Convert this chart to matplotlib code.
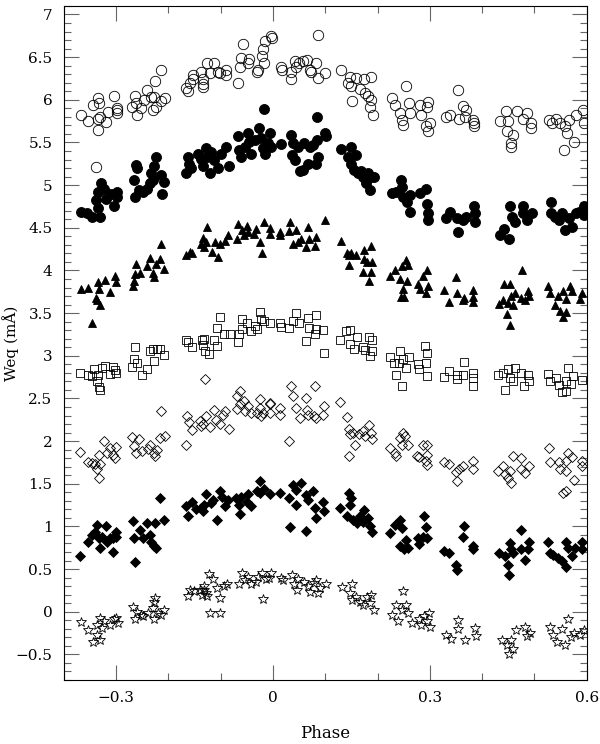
import numpy as np
import matplotlib
matplotlib.use("Agg")
import matplotlib.pyplot as plt
from matplotlib.ticker import MultipleLocator

# ---- data: (phase, Weq)
open_circles = [
    (-0.367, 5.82), (-0.353, 5.75), (-0.343, 5.94), (-0.334, 6.02), (-0.332, 5.96), (-0.335, 5.78),
    (-0.330, 5.80), (-0.334, 5.65), (-0.319, 5.74), (-0.315, 5.86), (-0.304, 6.04), (-0.298, 5.90),
    (-0.298, 5.84), (-0.297, 5.88), (-0.339, 5.21), (-0.270, 5.91), (-0.263, 6.04), (-0.262, 5.96),
    (-0.259, 5.82), (-0.252, 5.90), (-0.247, 6.00), (-0.240, 6.11), (-0.233, 6.03), (-0.230, 5.88),
    (-0.227, 6.03), (-0.226, 6.22), (-0.224, 5.92), (-0.214, 6.35), (-0.214, 5.99), (-0.206, 6.02),
    (-0.166, 6.14), (-0.162, 6.10), (-0.159, 6.20), (-0.153, 6.29), (-0.153, 6.24), (-0.137, 6.33),
    (-0.134, 6.24), (-0.134, 6.18), (-0.133, 6.15), (-0.125, 6.43), (-0.121, 6.31), (-0.112, 6.43),
    (-0.105, 6.33), (-0.102, 6.32), (-0.089, 6.35), (-0.089, 6.29), (-0.066, 6.20), (-0.063, 6.39),
    (-0.061, 6.49), (-0.058, 6.65), (-0.048, 6.43), (-0.045, 6.48), (-0.030, 6.33), (-0.029, 6.35),
    (-0.021, 6.51), (-0.019, 6.60), (-0.016, 6.69), (-0.017, 6.43), (-0.004, 6.75), (-0.002, 6.73),
    (0.016, 6.39), (0.017, 6.35), (0.035, 6.24), (0.034, 6.33), (0.042, 6.45), (0.045, 6.39),
    (0.049, 6.43), (0.057, 6.45), (0.066, 6.47), (0.070, 6.35), (0.073, 6.33), (0.083, 6.43),
    (0.086, 6.76), (0.087, 6.25), (0.099, 6.32), (0.131, 6.35), (0.144, 6.20), (0.147, 6.27),
    (0.150, 6.16), (0.151, 5.99), (0.159, 6.25), (0.166, 6.13), (0.175, 6.24), (0.176, 6.08),
    (0.181, 6.04), (0.188, 6.27), (0.188, 6.00), (0.186, 5.92), (0.192, 5.82), (0.227, 6.02),
    (0.233, 5.94), (0.243, 5.84), (0.246, 5.76), (0.249, 5.71), (0.254, 6.16), (0.260, 5.96),
    (0.262, 5.84), (0.281, 5.94), (0.283, 5.82), (0.294, 5.92), (0.296, 5.98), (0.292, 5.69),
    (0.297, 5.63), (0.300, 5.73), (0.330, 5.80), (0.339, 5.82), (0.353, 6.11), (0.355, 5.78),
    (0.364, 5.93), (0.367, 5.80), (0.369, 5.88), (0.383, 5.76), (0.385, 5.73), (0.385, 5.69),
    (0.435, 5.75), (0.445, 5.87), (0.450, 5.75), (0.447, 5.64), (0.458, 5.59), (0.456, 5.49),
    (0.456, 5.45), (0.466, 5.87), (0.479, 5.78), (0.486, 5.84), (0.494, 5.73), (0.494, 5.67),
    (0.527, 5.76), (0.533, 5.73), (0.541, 5.77), (0.549, 5.73), (0.559, 5.69), (0.562, 5.61),
    (0.556, 5.41), (0.566, 5.76), (0.575, 5.50), (0.579, 5.82), (0.593, 5.88), (0.595, 5.73),
]

filled_circles = [
    (-0.367, 4.69), (-0.356, 4.67), (-0.345, 4.63), (-0.339, 4.82), (-0.335, 4.73), (-0.330, 4.63),
    (-0.334, 4.92), (-0.329, 5.03), (-0.322, 4.95), (-0.319, 4.84), (-0.310, 4.90), (-0.303, 4.75),
    (-0.297, 4.92), (-0.297, 4.86), (-0.266, 5.06), (-0.262, 5.24), (-0.260, 5.20), (-0.264, 4.86),
    (-0.256, 4.94), (-0.249, 4.92), (-0.240, 4.95), (-0.234, 5.02), (-0.232, 5.14), (-0.230, 5.06),
    (-0.227, 5.22), (-0.224, 5.33), (-0.214, 5.12), (-0.211, 4.90), (-0.208, 5.04), (-0.166, 5.14),
    (-0.163, 5.33), (-0.160, 5.25), (-0.157, 5.20), (-0.144, 5.37), (-0.137, 5.31), (-0.134, 5.22),
    (-0.128, 5.43), (-0.121, 5.14), (-0.125, 5.33), (-0.118, 5.39), (-0.112, 5.29), (-0.105, 5.20),
    (-0.099, 5.37), (-0.089, 5.45), (-0.083, 5.22), (-0.067, 5.57), (-0.065, 5.41), (-0.061, 5.33),
    (-0.054, 5.45), (-0.048, 5.61), (-0.045, 5.51), (-0.042, 5.37), (-0.035, 5.53), (-0.026, 5.67),
    (-0.022, 5.55), (-0.019, 5.43), (-0.017, 5.89), (-0.016, 5.37), (-0.010, 5.49), (-0.006, 5.61),
    (-0.003, 5.45), (0.016, 5.48), (0.035, 5.59), (0.038, 5.49), (0.036, 5.35), (0.042, 5.29),
    (0.048, 5.45), (0.051, 5.17), (0.060, 5.49), (0.070, 5.45), (0.067, 5.25), (0.057, 5.18),
    (0.076, 5.47), (0.085, 5.53), (0.085, 5.80), (0.086, 5.33), (0.083, 5.25), (0.099, 5.61),
    (0.101, 5.57), (0.131, 5.42), (0.150, 5.45), (0.144, 5.33), (0.159, 5.35), (0.150, 5.25),
    (0.156, 5.18), (0.163, 5.14), (0.169, 5.16), (0.172, 5.10), (0.182, 5.14), (0.188, 5.10),
    (0.178, 5.02), (0.185, 4.94), (0.193, 5.10), (0.227, 4.91), (0.236, 4.92), (0.245, 5.06),
    (0.246, 4.98), (0.249, 4.86), (0.256, 4.80), (0.262, 4.88), (0.262, 4.69), (0.281, 4.91),
    (0.292, 4.96), (0.294, 4.78), (0.297, 4.67), (0.297, 4.59), (0.330, 4.61), (0.339, 4.69),
    (0.351, 4.61), (0.353, 4.45), (0.364, 4.59), (0.370, 4.63), (0.385, 4.75), (0.387, 4.67),
    (0.387, 4.57), (0.435, 4.41), (0.441, 4.49), (0.451, 4.37), (0.454, 4.76), (0.457, 4.63),
    (0.463, 4.57), (0.479, 4.76), (0.479, 4.67), (0.486, 4.59), (0.495, 4.67), (0.531, 4.80),
    (0.531, 4.67), (0.540, 4.63), (0.547, 4.59), (0.553, 4.67), (0.559, 4.47), (0.566, 4.61),
    (0.572, 4.51), (0.579, 4.67), (0.585, 4.69), (0.595, 4.76), (0.595, 4.65),
]

triangles = [
    (-0.367, 3.78), (-0.354, 3.80), (-0.345, 3.39), (-0.338, 3.68), (-0.335, 3.86), (-0.332, 3.78),
    (-0.337, 3.65), (-0.330, 3.59), (-0.321, 3.89), (-0.311, 3.75), (-0.302, 3.93), (-0.300, 3.87),
    (-0.268, 3.82), (-0.266, 3.88), (-0.262, 4.07), (-0.263, 3.96), (-0.254, 3.97), (-0.241, 4.05),
    (-0.235, 4.15), (-0.229, 3.97), (-0.227, 3.92), (-0.224, 4.07), (-0.215, 4.14), (-0.214, 4.31),
    (-0.208, 4.02), (-0.166, 4.18), (-0.158, 4.22), (-0.155, 4.20), (-0.138, 4.31), (-0.134, 4.38),
    (-0.132, 4.27), (-0.127, 4.33), (-0.125, 4.51), (-0.117, 4.22), (-0.111, 4.33), (-0.104, 4.16),
    (-0.101, 4.31), (-0.091, 4.35), (-0.085, 4.41), (-0.069, 4.37), (-0.066, 4.55), (-0.059, 4.47),
    (-0.056, 4.41), (-0.050, 4.52), (-0.047, 4.45), (-0.037, 4.43), (-0.032, 4.49), (-0.025, 4.33),
    (-0.020, 4.21), (-0.017, 4.57), (-0.006, 4.43), (-0.005, 4.50), (0.013, 4.41), (0.014, 4.45),
    (0.031, 4.46), (0.032, 4.57), (0.039, 4.31), (0.045, 4.47), (0.048, 4.33), (0.053, 4.37),
    (0.063, 4.27), (0.067, 4.51), (0.069, 4.37), (0.080, 4.29), (0.083, 4.39), (0.100, 4.59),
    (0.130, 4.34), (0.141, 4.20), (0.146, 4.18), (0.150, 4.20), (0.146, 4.06), (0.159, 4.18),
    (0.175, 4.24), (0.187, 4.29), (0.174, 4.14), (0.179, 4.10), (0.189, 4.10), (0.173, 3.98),
    (0.187, 3.98), (0.184, 3.88), (0.224, 3.93), (0.233, 4.01), (0.243, 3.90), (0.246, 4.05),
    (0.254, 4.12), (0.259, 4.06), (0.257, 3.88), (0.248, 3.78), (0.244, 3.69), (0.250, 3.69),
    (0.278, 3.84), (0.281, 3.78), (0.287, 3.93), (0.295, 4.00), (0.292, 3.74), (0.297, 3.82),
    (0.327, 3.77), (0.337, 3.63), (0.350, 3.92), (0.351, 3.74), (0.363, 3.65), (0.365, 3.68),
    (0.382, 3.77), (0.383, 3.69), (0.382, 3.63), (0.432, 3.61), (0.439, 3.65), (0.441, 3.84),
    (0.450, 3.62), (0.454, 3.84), (0.456, 3.70), (0.462, 3.73), (0.447, 3.49), (0.454, 3.36),
    (0.458, 3.59), (0.475, 3.68), (0.477, 4.00), (0.482, 3.65), (0.488, 3.76), (0.490, 3.70),
    (0.526, 3.82), (0.529, 3.74), (0.539, 3.59), (0.545, 3.70), (0.548, 3.53), (0.555, 3.76),
    (0.560, 3.67), (0.561, 3.51), (0.554, 3.45), (0.568, 3.82), (0.571, 3.76), (0.587, 3.67),
    (0.590, 3.74),
]

squares = [
    (-0.368, 2.80), (-0.354, 2.78), (-0.346, 2.76), (-0.341, 2.84), (-0.337, 2.71), (-0.335, 2.78),
    (-0.333, 2.63), (-0.331, 2.60), (-0.327, 2.86), (-0.321, 2.88), (-0.312, 2.79), (-0.306, 2.87),
    (-0.302, 2.83), (-0.300, 2.80), (-0.270, 2.87), (-0.265, 2.96), (-0.263, 3.10), (-0.259, 2.92),
    (-0.251, 2.78), (-0.240, 2.85), (-0.235, 3.06), (-0.229, 3.08), (-0.228, 2.94), (-0.222, 3.08),
    (-0.216, 3.08), (-0.209, 3.01), (-0.166, 3.18), (-0.162, 3.16), (-0.155, 3.10), (-0.136, 3.18),
    (-0.134, 3.13), (-0.132, 3.20), (-0.130, 3.06), (-0.122, 3.02), (-0.113, 3.18), (-0.107, 3.11),
    (-0.107, 3.33), (-0.102, 3.45), (-0.093, 3.25), (-0.082, 3.25), (-0.067, 3.16), (-0.064, 3.25),
    (-0.059, 3.43), (-0.059, 3.31), (-0.050, 3.38), (-0.041, 3.29), (-0.034, 3.35), (-0.031, 3.31),
    (-0.025, 3.51), (-0.022, 3.43), (-0.017, 3.41), (-0.006, 3.39), (0.013, 3.39), (0.015, 3.34),
    (0.031, 3.32), (0.039, 3.41), (0.045, 3.50), (0.050, 3.39), (0.063, 3.17), (0.067, 3.44),
    (0.069, 3.33), (0.080, 3.25), (0.083, 3.48), (0.083, 3.31), (0.096, 3.30), (0.097, 3.03),
    (0.128, 3.18), (0.140, 3.29), (0.147, 3.30), (0.147, 3.14), (0.156, 3.08), (0.161, 3.22),
    (0.173, 3.10), (0.176, 3.07), (0.184, 3.22), (0.186, 3.00), (0.189, 3.18), (0.189, 3.06),
    (0.224, 2.98), (0.231, 2.92), (0.235, 2.78), (0.243, 3.06), (0.242, 2.91), (0.246, 2.65),
    (0.249, 2.96), (0.254, 2.86), (0.261, 2.98), (0.278, 2.90), (0.280, 2.84), (0.291, 3.12),
    (0.294, 3.03), (0.292, 2.92), (0.295, 2.76), (0.327, 2.75), (0.337, 2.82), (0.351, 2.78),
    (0.351, 2.73), (0.364, 2.78), (0.365, 2.93), (0.382, 2.80), (0.382, 2.74), (0.383, 2.64),
    (0.431, 2.78), (0.440, 2.80), (0.443, 2.60), (0.450, 2.84), (0.454, 2.74), (0.458, 2.70),
    (0.462, 2.86), (0.475, 2.80), (0.480, 2.65), (0.488, 2.78), (0.490, 2.71), (0.526, 2.79),
    (0.529, 2.71), (0.542, 2.74), (0.547, 2.66), (0.552, 2.57), (0.561, 2.59), (0.564, 2.86),
    (0.561, 2.70), (0.574, 2.76), (0.569, 2.67), (0.590, 2.72),
]

open_diamonds = [
    (-0.368, 1.87), (-0.354, 1.76), (-0.346, 1.74), (-0.340, 1.73), (-0.337, 1.67), (-0.333, 1.57),
    (-0.333, 1.84), (-0.330, 1.73), (-0.322, 2.00), (-0.318, 1.86), (-0.311, 1.92), (-0.305, 1.84),
    (-0.302, 1.80), (-0.300, 1.93), (-0.270, 2.05), (-0.265, 1.94), (-0.262, 1.86), (-0.255, 2.03),
    (-0.250, 1.88), (-0.238, 1.91), (-0.234, 1.96), (-0.228, 1.86), (-0.225, 1.82), (-0.222, 1.89),
    (-0.216, 2.04), (-0.207, 2.06), (-0.214, 2.35), (-0.166, 1.96), (-0.164, 2.29), (-0.160, 2.22),
    (-0.155, 2.13), (-0.139, 2.24), (-0.137, 2.18), (-0.134, 2.20), (-0.127, 2.29), (-0.120, 2.16),
    (-0.113, 2.37), (-0.109, 2.25), (-0.101, 2.20), (-0.095, 2.31), (-0.092, 2.35), (-0.083, 2.14),
    (-0.069, 2.38), (-0.063, 2.43), (-0.053, 2.35), (-0.048, 2.41), (-0.041, 2.33), (-0.031, 2.33),
    (-0.025, 2.39), (-0.022, 2.29), (-0.019, 2.33), (-0.006, 2.44), (-0.006, 2.33), (0.014, 2.39),
    (0.014, 2.31), (0.030, 2.00), (0.045, 2.39), (0.052, 2.27), (0.065, 2.36), (0.068, 2.31),
    (0.078, 2.29), (0.083, 2.27), (0.096, 2.31), (-0.130, 2.73), (-0.063, 2.59), (-0.069, 2.53),
    (-0.055, 2.47), (-0.025, 2.49), (-0.006, 2.45), (0.035, 2.65), (0.039, 2.53), (0.063, 2.51),
    (0.080, 2.65), (0.098, 2.41), (0.129, 2.46), (0.141, 2.28), (0.146, 2.14), (0.147, 2.08),
    (0.154, 2.10), (0.157, 1.96), (0.146, 1.82), (0.165, 2.08), (0.172, 2.12), (0.176, 2.06),
    (0.184, 2.19), (0.187, 2.10), (0.189, 2.02), (0.224, 1.92), (0.233, 1.86), (0.235, 1.82),
    (0.243, 2.04), (0.248, 2.10), (0.246, 1.96), (0.252, 2.06), (0.259, 1.96), (0.276, 1.82),
    (0.280, 1.81), (0.287, 1.96), (0.295, 1.96), (0.292, 1.77), (0.295, 1.84), (0.294, 1.72),
    (0.327, 1.75), (0.337, 1.73), (0.350, 1.64), (0.351, 1.53), (0.356, 1.67), (0.364, 1.71),
    (0.382, 1.77), (0.383, 1.67), (0.431, 1.65), (0.440, 1.71), (0.443, 1.61), (0.450, 1.57),
    (0.454, 1.65), (0.456, 1.51), (0.459, 1.82), (0.475, 1.80), (0.475, 1.67), (0.482, 1.63),
    (0.490, 1.71), (0.528, 1.92), (0.529, 1.75), (0.547, 1.75), (0.548, 1.67), (0.560, 1.77),
    (0.564, 1.86), (0.571, 1.81), (0.561, 1.65), (0.575, 1.55), (0.554, 1.39), (0.560, 1.41),
    (0.590, 1.71), (0.590, 1.77),
]

filled_diamonds = [
    (-0.368, 0.65), (-0.354, 0.82), (-0.346, 0.90), (-0.340, 0.93), (-0.337, 1.02), (-0.333, 0.86),
    (-0.331, 0.75), (-0.327, 0.88), (-0.319, 1.01), (-0.318, 0.82), (-0.312, 0.86), (-0.306, 0.70),
    (-0.305, 0.86), (-0.300, 0.94), (-0.299, 0.88), (-0.268, 1.06), (-0.265, 0.86), (-0.263, 0.58),
    (-0.254, 0.96), (-0.249, 0.87), (-0.240, 1.04), (-0.235, 0.90), (-0.232, 0.82), (-0.227, 0.77),
    (-0.224, 0.75), (-0.225, 1.04), (-0.216, 1.33), (-0.209, 1.07), (-0.166, 1.24), (-0.162, 1.12),
    (-0.155, 1.29), (-0.146, 1.20), (-0.137, 1.22), (-0.134, 1.18), (-0.131, 1.25), (-0.127, 1.38),
    (-0.118, 1.27), (-0.115, 1.31), (-0.107, 1.07), (-0.102, 1.42), (-0.098, 1.35), (-0.092, 1.24),
    (-0.086, 1.31), (-0.070, 1.33), (-0.064, 1.25), (-0.063, 1.15), (-0.060, 1.35), (-0.050, 1.29),
    (-0.047, 1.38), (-0.041, 1.24), (-0.031, 1.42), (-0.025, 1.53), (-0.025, 1.39), (-0.017, 1.44),
    (-0.006, 1.38), (0.013, 1.39), (0.032, 0.99), (0.031, 1.33), (0.039, 1.49), (0.045, 1.43),
    (0.045, 1.25), (0.053, 1.51), (0.063, 0.95), (0.064, 1.37), (0.068, 1.31), (0.077, 1.41),
    (0.083, 1.10), (0.080, 1.22), (0.096, 1.29), (0.098, 1.18), (0.129, 1.22), (0.146, 1.39),
    (0.149, 1.33), (0.147, 1.25), (0.141, 1.12), (0.154, 1.08), (0.160, 1.04), (0.166, 1.12),
    (0.174, 1.19), (0.173, 1.05), (0.182, 1.10), (0.186, 1.00), (0.189, 0.94), (0.224, 0.92),
    (0.233, 1.02), (0.243, 1.08), (0.246, 0.98), (0.243, 0.77), (0.250, 0.73), (0.254, 0.84),
    (0.259, 0.75), (0.278, 0.86), (0.280, 0.79), (0.289, 1.12), (0.287, 0.88), (0.292, 0.99),
    (0.295, 0.86), (0.327, 0.71), (0.337, 0.69), (0.350, 0.55), (0.351, 0.49), (0.363, 0.88),
    (0.365, 1.01), (0.382, 0.77), (0.383, 0.73), (0.432, 0.69), (0.443, 0.65), (0.450, 0.55),
    (0.454, 0.80), (0.456, 0.73), (0.452, 0.43), (0.459, 0.69), (0.475, 0.96), (0.475, 0.73),
    (0.482, 0.61), (0.490, 0.82), (0.488, 0.73), (0.525, 0.82), (0.529, 0.69), (0.536, 0.67),
    (0.545, 0.63), (0.552, 0.59), (0.560, 0.53), (0.561, 0.82), (0.564, 0.75), (0.571, 0.65),
    (0.577, 0.75), (0.590, 0.82), (0.590, 0.73),
]

stars = [
    (-0.366, -0.12), (-0.353, -0.21), (-0.344, -0.36), (-0.337, -0.27), (-0.331, -0.33), (-0.337, -0.15),
    (-0.331, -0.07), (-0.326, -0.19), (-0.322, -0.11), (-0.311, -0.15), (-0.304, -0.09), (-0.300, -0.07),
    (-0.296, -0.13), (-0.267, 0.05), (-0.263, -0.09), (-0.260, 0.00), (-0.253, -0.04), (-0.249, -0.05),
    (-0.238, -0.02), (-0.230, 0.04), (-0.228, 0.12), (-0.225, 0.16), (-0.227, -0.09), (-0.220, -0.01),
    (-0.213, -0.04), (-0.208, 0.02), (-0.162, 0.19), (-0.159, 0.25), (-0.150, 0.24), (-0.139, 0.26),
    (-0.135, 0.20), (-0.131, 0.25), (-0.128, 0.22), (-0.125, 0.18), (-0.131, 0.30), (-0.122, 0.44),
    (-0.115, 0.38), (-0.120, -0.02), (-0.102, -0.01), (-0.106, 0.28), (-0.102, 0.16), (-0.093, 0.30),
    (-0.087, 0.33), (-0.065, 0.32), (-0.059, 0.45), (-0.054, 0.37), (-0.047, 0.41), (-0.042, 0.33),
    (-0.032, 0.35), (-0.029, 0.41), (-0.021, 0.46), (-0.018, 0.15), (-0.014, 0.38), (-0.007, 0.39),
    (-0.003, 0.45), (0.015, 0.39), (0.019, 0.37), (0.037, 0.43), (0.041, 0.33), (0.046, 0.26),
    (0.048, 0.38), (0.059, 0.35), (0.067, 0.30), (0.070, 0.23), (0.078, 0.34), (0.083, 0.37),
    (0.087, 0.22), (0.090, 0.28), (0.102, 0.32), (0.133, 0.29), (0.151, 0.32), (0.147, 0.22),
    (0.151, 0.14), (0.158, 0.17), (0.166, 0.12), (0.173, 0.08), (0.180, 0.17), (0.188, 0.20),
    (0.186, 0.10), (0.193, 0.02), (0.228, -0.04), (0.236, 0.08), (0.239, -0.11), (0.249, 0.24),
    (0.247, 0.02), (0.254, 0.08), (0.259, -0.01), (0.265, -0.13), (0.280, -0.09), (0.283, -0.15),
    (0.288, -0.05), (0.294, -0.11), (0.298, -0.02), (0.300, -0.18), (0.331, -0.27), (0.340, -0.32),
    (0.354, -0.10), (0.354, -0.20), (0.368, -0.33), (0.386, -0.19), (0.388, -0.28), (0.437, -0.33),
    (0.448, -0.39), (0.452, -0.50), (0.456, -0.33), (0.459, -0.44), (0.464, -0.21), (0.481, -0.18),
    (0.486, -0.28), (0.492, -0.25), (0.529, -0.18), (0.536, -0.27), (0.543, -0.35), (0.552, -0.20),
    (0.558, -0.39), (0.564, -0.09), (0.569, -0.29), (0.576, -0.25), (0.587, -0.27), (0.595, -0.21),
]

# marker, size, filled
styles = [
    (open_circles, "o", 7.5, False),
    (filled_circles, "o", 7.2, True),
    (triangles, "^", 6.0, True),
    (squares, "s", 5.2, False),
    (open_diamonds, "D", 4.6, False),
    (filled_diamonds, "D", 5.0, True),
    (stars, "*", 7.5, False),
]

plt.rcParams["font.family"] = ["DejaVu Serif"]

fig = plt.figure(figsize=(6.0, 7.44), dpi=100)
ax = fig.add_axes([0.106, 0.086, 0.872, 0.906])

for pts, mk, ms, filled in styles:
    arr = np.array(pts)
    ax.plot(arr[:, 0], arr[:, 1], ls="none", marker=mk, ms=ms,
            mfc="black" if filled else "none", mec="black", mew=0.6)

ax.set_xlim(-0.4, 0.6)
ax.set_ylim(-0.8, 7.1)

ax.xaxis.set_major_locator(MultipleLocator(0.3))
ax.xaxis.set_minor_locator(MultipleLocator(0.1))
ax.yaxis.set_major_locator(MultipleLocator(0.5))
ax.yaxis.set_minor_locator(MultipleLocator(0.1))
# long minus sign like the original
fmt = plt.FuncFormatter(lambda v, p: "0" if abs(v) < 1e-9 else ("%g" % v).replace("-", "\u2212"))
ax.xaxis.set_major_formatter(fmt)
ax.yaxis.set_major_formatter(fmt)

ax.tick_params(which="both", direction="in", top=True, right=True, color="0.4",
               labelsize=11, width=0.8)
ax.tick_params(which="major", length=11, pad=8)
ax.tick_params(which="minor", length=5)
for sp in ax.spines.values():
    sp.set_linewidth(0.8)

ax.set_xlabel("Phase", fontsize=12, labelpad=14)
ax.set_ylabel("Weq (mÅ)", fontsize=11)
ax.yaxis.set_label_coords(-0.085, 0.5)

fig.savefig("out.png", dpi=100)
